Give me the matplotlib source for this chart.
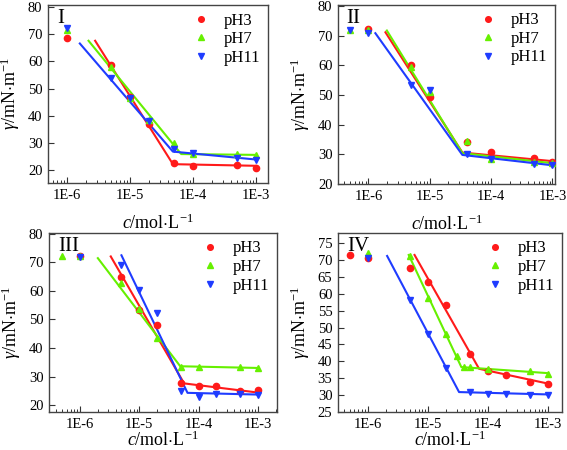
import numpy as np
import matplotlib.pyplot as plt
from matplotlib.ticker import LogLocator, NullFormatter, FixedLocator, FixedFormatter

plt.rcParams['font.family'] = ['Liberation Serif', 'DejaVu Serif']
plt.rcParams['mathtext.fontset'] = 'custom'
plt.rcParams['mathtext.rm'] = 'Liberation Serif'
plt.rcParams['mathtext.it'] = 'Liberation Serif:italic'

# --- 데이터 ---
# 패널 I
c1 = [1e-6, 5e-6, 1e-5, 2e-5, 5e-5, 1e-4, 5e-4, 1e-3]
g1_ph3 = [68.5, 58.5, 47.0, 37.0, 22.7, 21.5, 22.0, 21.0]
g1_ph7 = [71.5, 58.0, 46.5, 38.5, 30.0, 26.0, 26.0, 25.8]
g1_ph11 = [72.2, 54.0, 46.5, 38.0, 28.0, 26.5, 24.5, 24.0]
fit1_ph3_x = [2.8e-6, 4.8e-5, 1e-3]
fit1_ph3_y = [67.5, 22.3, 21.7]
fit1_ph7_x = [2.2e-6, 6.5e-5, 1e-3]
fit1_ph7_y = [67.5, 26.0, 25.7]
fit1_ph11_x = [1.6e-6, 4.8e-5, 1e-3]
fit1_ph11_y = [66.5, 26.9, 24.0]

# 패널 II
c2_ph3 = [1e-6, 5e-6, 1e-5, 4e-5, 1e-4, 5e-4, 1e-3]
g2_ph3 = [72.2, 60.0, 49.2, 34.0, 30.8, 28.7, 27.3]
c2 = [5e-7, 1e-6, 5e-6, 1e-5, 4e-5, 1e-4, 5e-4, 1e-3]
g2_ph7 = [72.0, 71.8, 59.5, 51.0, 34.5, 28.5, 27.5, 27.0]
g2_ph11 = [71.9, 70.8, 53.3, 51.5, 30.0, 28.5, 26.8, 26.4]
fit2_ph3_x = [1.9e-6, 3.4e-5, 1e-3]
fit2_ph3_y = [71.1, 30.6, 27.7]
fit2_ph7_x = [2.0e-6, 3.4e-5, 1e-3]
fit2_ph7_y = [71.7, 30.4, 27.0]
fit2_ph11_x = [1.3e-6, 3.4e-5, 1e-3]
fit2_ph11_y = [70.8, 29.8, 26.3]

# 패널 III
c3_ph3 = [1e-6, 5e-6, 1e-5, 2e-5, 5e-5, 1e-4, 2e-4, 5e-4, 1e-3]
g3_ph3 = [72.2, 64.9, 53.1, 48.1, 27.8, 26.7, 26.7, 24.8, 25.4]
c3_ph7 = [5e-7, 1e-6, 5e-6, 1e-5, 2e-5, 5e-5, 1e-4, 5e-4, 1e-3]
g3_ph7 = [72.3, 72.0, 62.7, 53.5, 43.5, 33.5, 33.3, 33.2, 33.0]
c3_ph11 = [1e-6, 5e-6, 1e-5, 2e-5, 5e-5, 1e-4, 2e-4, 5e-4, 1e-3]
g3_ph11 = [71.8, 69.0, 60.1, 52.3, 25.0, 22.9, 23.8, 24.0, 23.7]
fit3_ph3_x = [3.3e-6, 5.7e-5, 1e-3]
fit3_ph3_y = [72.0, 27.6, 24.4]
fit3_ph7_x = [2.0e-6, 4.9e-5, 1e-3]
fit3_ph7_y = [71.4, 33.6, 33.0]
fit3_ph11_x = [5.0e-6, 6.5e-5, 1e-3]
fit3_ph11_y = [72.4, 24.3, 23.7]

# 패널 IV
c4_ph3 = [5e-7, 1e-6, 5e-6, 1e-5, 2e-5, 5e-5, 1e-4, 2e-4, 5e-4, 1e-3]
g4_ph3 = [71.4, 70.6, 67.6, 63.6, 56.7, 42.1, 37.0, 36.1, 34.0, 33.4]
c4_ph7 = [1e-6, 5e-6, 1e-5, 2e-5, 3e-5, 4e-5, 5e-5, 1e-4, 5e-4, 1e-3]
g4_ph7 = [72.0, 71.3, 58.8, 48.1, 41.5, 38.4, 38.4, 37.8, 37.0, 36.3]
c4_ph11 = [1e-6, 5e-6, 1e-5, 2e-5, 5e-5, 1e-4, 2e-4, 5e-4, 1e-3]
g4_ph11 = [70.6, 58.2, 48.2, 38.0, 30.8, 30.4, 30.2, 30.1, 30.0]
fit4_ph3_x = [6.0e-6, 7.1e-5, 1e-3]
fit4_ph3_y = [71.5, 37.8, 33.4]
fit4_ph7_x = [4.8e-6, 3.6e-5, 1e-3]
fit4_ph7_y = [71.5, 38.3, 36.5]
fit4_ph11_x = [2.1e-6, 3.3e-5, 1e-3]
fit4_ph11_y = [71.2, 30.9, 30.2]

x_ticks = [1e-6, 1e-5, 1e-4, 1e-3]
x_tick_labels = ['1E-6', '1E-5', '1E-4', '1E-3']

RED = '#ff1a1a'
GREEN = '#66f000'
BLUE = '#1f3cff'

W, H = 567, 450
fig = plt.figure(figsize=(W / 100, H / 100), dpi=100)


def make_ax(left, right, top, bottom):
    return fig.add_axes([left / W, 1 - bottom / H, (right - left) / W, (bottom - top) / H])


panels = [
    dict(box=(48, 268, 5, 183), xlim=(5e-7, 1.55e-3), ylim=(15.4, 80.6), yt=[20, 30, 40, 50, 60, 70, 80],
         name='I', xpad=9,
         pts=[(c1, g1_ph3), (c1, g1_ph7), (c1, g1_ph11)],
         fits=[(fit1_ph3_x, fit1_ph3_y), (fit1_ph7_x, fit1_ph7_y), (fit1_ph11_x, fit1_ph11_y)]),
    dict(box=(338, 555, 5, 184), xlim=(3.2e-7, 1.1e-3), ylim=(20, 80.3), yt=[20, 30, 40, 50, 60, 70, 80],
         name='II', xpad=9,
         pts=[(c2_ph3, g2_ph3), (c2, g2_ph7), (c2, g2_ph11)],
         fits=[(fit2_ph3_x, fit2_ph3_y), (fit2_ph7_x, fit2_ph7_y), (fit2_ph11_x, fit2_ph11_y)]),
    dict(box=(49, 277, 233, 412), xlim=(3e-7, 2.1e-3), ylim=(17.6, 80.2), yt=[20, 30, 40, 50, 60, 70, 80],
         name='III', xpad=0,
         pts=[(c3_ph3, g3_ph3), (c3_ph7, g3_ph7), (c3_ph11, g3_ph11)],
         fits=[(fit3_ph3_x, fit3_ph3_y), (fit3_ph7_x, fit3_ph7_y), (fit3_ph11_x, fit3_ph11_y)]),
    dict(box=(338, 562, 233, 412), xlim=(3.2e-7, 1.7e-3), ylim=(25, 78), yt=[25, 30, 35, 40, 45, 50, 55, 60, 65, 70, 75],
         name='IV', xpad=0,
         pts=[(c4_ph3, g4_ph3), (c4_ph7, g4_ph7), (c4_ph11, g4_ph11)],
         fits=[(fit4_ph3_x, fit4_ph3_y), (fit4_ph7_x, fit4_ph7_y), (fit4_ph11_x, fit4_ph11_y)]),
]

colors = [RED, GREEN, BLUE]
markers = ['o', '^', 'v']
labels = ['pH3', 'pH7', 'pH11']

for p in panels:
    ax = make_ax(*p['box'])
    for (x, y), (fx, fy), col, mk, lab in zip(p['pts'], p['fits'], colors, markers, labels):
        ax.plot(fx, fy, color=col, lw=1.5, zorder=2)
        ax.plot(x, y, linestyle='none', marker=mk, ms=4.5, color=col, label=lab, zorder=3)
    ax.set_xscale('log')
    ax.set_xlim(*p['xlim'])
    ax.set_ylim(*p['ylim'])
    ax.xaxis.set_major_locator(FixedLocator(x_ticks))
    ax.xaxis.set_major_formatter(FixedFormatter(x_tick_labels))
    ax.xaxis.set_minor_locator(LogLocator(base=10, subs=np.arange(2, 10), numticks=20))
    ax.xaxis.set_minor_formatter(NullFormatter())
    ax.set_yticks(p['yt'])
    ax.tick_params(direction='in', labelsize=10.5, length=4, width=0.8, colors='#333333',
                   labelcolor='black', pad=4)
    ax.tick_params(which='minor', direction='in', length=2.5, width=0.7, colors='#333333')
    for s in ax.spines.values():
        s.set_color('#444444')
        s.set_linewidth(1.0)
    ax.set_xlabel(r'$c$/mol$\cdot$L$^{-1}$', fontsize=13, labelpad=p['xpad'])
    ax.set_ylabel(r'$\gamma$/mN$\cdot$m$^{-1}$', fontsize=13, labelpad=4)
    ax.text(0.04, 0.975, p['name'], transform=ax.transAxes, fontsize=15, va='top', ha='left')
    ax.legend(loc='upper right', frameon=False, fontsize=12, handletextpad=0.6, markerscale=0.9,
              borderaxespad=0.05, labelspacing=0.15, handlelength=1.6)

fig.savefig('out.png', dpi=100)
